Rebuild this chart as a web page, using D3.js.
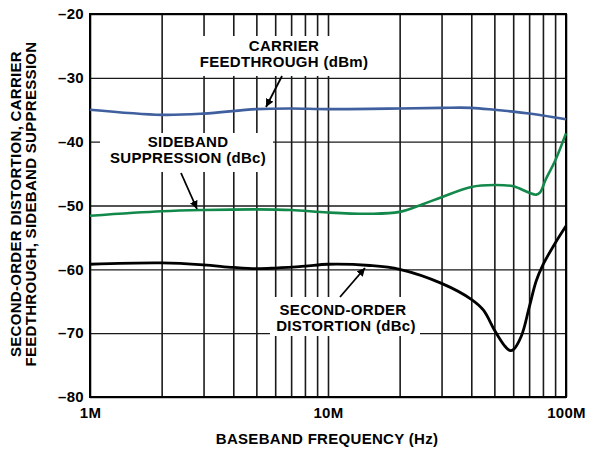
<!DOCTYPE html>
<html>
<head>
<meta charset="utf-8">
<script src="https://cdn.jsdelivr.net/npm/d3@7"></script>
<style>
  body { margin: 0; background: #fff; }
  text { font-family: "Liberation Sans", Arial, Helvetica, sans-serif; font-weight: bold; fill: #000; }
</style>
</head>
<body>
<div id="chart"></div>
<script>
// frequencies in MHz, levels in dB
var carrierFreq = [1, 2, 3, 5, 7, 10, 20, 30, 40, 50, 60, 70, 80, 100];
var carrierDbm  = [-35.0, -35.8, -35.6, -34.9, -34.8, -34.9, -34.8, -34.7, -34.7, -35.0, -35.3, -35.6, -35.9, -36.5];

var sidebandFreq = [1, 2, 3, 5, 7, 10, 15, 20, 25, 30, 40, 50, 60, 70, 75, 78, 82, 90, 100];
var sidebandDbc  = [-51.6, -50.9, -50.7, -50.6, -50.7, -51.1, -51.3, -51.0, -49.8, -48.7, -47.1, -46.8, -47.0, -48.0, -48.3, -47.9, -46.0, -43.0, -38.7];

var hd2Freq = [1, 2, 3, 4, 5, 6, 8, 10, 15, 20, 30, 40, 45, 50, 55, 58, 60, 65, 70, 75, 80, 90, 100];
var hd2Dbc  = [-59.2, -59.0, -59.3, -59.7, -59.9, -59.8, -59.5, -59.2, -59.4, -60.0, -62.2, -64.7, -66.4, -69.5, -71.9, -72.7, -72.6, -70.4, -66.0, -61.8, -59.3, -55.9, -53.2];

var yTicks = [-80, -70, -60, -50, -40, -30, -20];
var xMajor = [1, 10, 100];
var xTickLabels = ["1M", "10M", "100M"];

var width = 593, height = 453,
    margin = {top: 14, right: 27, bottom: 56, left: 90},
    w = width - margin.left - margin.right,
    h = height - margin.top - margin.bottom;

var svg = d3.select("#chart").append("svg")
    .attr("width", width)
    .attr("height", height);

var g = svg.append("g")
    .attr("transform", "translate(" + margin.left + "," + margin.top + ")");

var x = d3.scaleLog().domain([1, 100]).range([0, w]);
var y = d3.scaleLinear().domain([-80, -20]).range([h, 0]);

// every 1..9 per decade
var xGrid = [];
[1, 10].forEach(function(d) {
  for (var k = 1; k < 10; k++) xGrid.push(d * k);
});
xGrid.push(100);

// grid through the axis generators
g.append("g")
    .attr("class", "grid x")
    .attr("transform", "translate(0," + h + ")")
    .call(d3.axisBottom(x).tickValues(xGrid).tickSize(h).tickFormat(""))
    .call(function(s) {
      s.select(".domain").remove();
      s.selectAll(".tick line").attr("transform", "translate(0," + (-h) + ")")
        .attr("stroke", "#1a1a1a").attr("stroke-width", 1.6);
    });

g.append("g")
    .attr("class", "grid y")
    .call(d3.axisLeft(y).tickValues(yTicks).tickSize(-w).tickFormat(""))
    .call(function(s) {
      s.select(".domain").remove();
      s.selectAll(".tick line").attr("stroke", "#1a1a1a").attr("stroke-width", 1.4);
    });

// white patches behind the curve labels (cut the grid)
var boxes = [
  {x0: 185, y0: 36, x1: 377, y1: 76},
  {x0: 100, y0: 133, x1: 273, y1: 172},
  {x0: 270, y0: 297, x1: 420, y1: 336}
];
g.selectAll("rect.patch").data(boxes).enter().append("rect")
    .attr("class", "patch")
    .attr("x", function(d) { return d.x0 - margin.left; })
    .attr("y", function(d) { return d.y0 - margin.top; })
    .attr("width", function(d) { return d.x1 - d.x0; })
    .attr("height", function(d) { return d.y1 - d.y0; })
    .attr("fill", "#fff");

// frame
g.append("rect")
    .attr("width", w).attr("height", h)
    .attr("fill", "none").attr("stroke", "#000").attr("stroke-width", 2);

// tick labels
g.append("g")
    .attr("transform", "translate(0," + h + ")")
    .call(d3.axisBottom(x).tickValues(xMajor).tickSize(0).tickPadding(10)
      .tickFormat(function(d, i) { return xTickLabels[i]; }))
    .call(function(s) {
      s.select(".domain").remove();
      s.selectAll("text").attr("font-size", 15).attr("letter-spacing", 0.3)
        .attr("font-family", null).attr("fill", "#000");
    });

g.append("g")
    .call(d3.axisLeft(y).tickValues(yTicks).tickSize(0).tickPadding(6)
      .tickFormat(function(d) { return "\u2013" + Math.abs(d); }))
    .call(function(s) {
      s.select(".domain").remove();
      s.selectAll("text").attr("font-size", 15).attr("letter-spacing", 0.3)
        .attr("font-family", null).attr("fill", "#000");
    });

// curves
var line = d3.line()
    .x(function(d) { return x(d[0]); })
    .y(function(d) { return y(d[1]); })
    .curve(d3.curveCatmullRom.alpha(0.5));

var series = [
  {f: carrierFreq, v: carrierDbm, color: "#3f5f9e", sw: 2.6},
  {f: sidebandFreq, v: sidebandDbc, color: "#12894a", sw: 2.6},
  {f: hd2Freq, v: hd2Dbc, color: "#000", sw: 2.8}
];

g.selectAll("path.curve").data(series).enter().append("path")
    .attr("class", "curve")
    .attr("fill", "none")
    .attr("stroke", function(d) { return d.color; })
    .attr("stroke-width", function(d) { return d.sw; })
    .attr("d", function(d) { return line(d3.zip(d.f, d.v)); });

// arrows
svg.append("defs").append("marker")
    .attr("id", "head")
    .attr("viewBox", "0 0 10 10")
    .attr("refX", 10).attr("refY", 5)
    .attr("markerWidth", 4.5).attr("markerHeight", 4.5)
    .attr("markerUnits", "strokeWidth")
    .attr("orient", "auto")
  .append("path")
    .attr("d", "M0,0 L10,5 L0,10 Z")
    .attr("fill", "#000");

var arrows = [
  {x1: 282, y1: 76, x2: 266, y2: 107},
  {x1: 181, y1: 173, x2: 197, y2: 209},
  {x1: 340, y1: 297, x2: 365, y2: 268}
];
svg.selectAll("line.arrow").data(arrows).enter().append("line")
    .attr("class", "arrow")
    .attr("x1", function(d) { return d.x1; })
    .attr("y1", function(d) { return d.y1; })
    .attr("x2", function(d) { return d.x2; })
    .attr("y2", function(d) { return d.y2; })
    .attr("stroke", "#000").attr("stroke-width", 1.8)
    .attr("marker-end", "url(#head)");

// curve labels
var notes = [
  {x: 284, y: 51, text: "CARRIER"},
  {x: 284, y: 67, text: "FEEDTHROUGH (dBm)"},
  {x: 188, y: 147, text: "SIDEBAND"},
  {x: 188, y: 163, text: "SUPPRESSION (dBc)"},
  {x: 343, y: 315, text: "SECOND-ORDER"},
  {x: 346, y: 331, text: "DISTORTION (dBc)"}
];
svg.selectAll("text.note").data(notes).enter().append("text")
    .attr("class", "note")
    .attr("x", function(d) { return d.x; })
    .attr("y", function(d) { return d.y; })
    .attr("text-anchor", "middle")
    .attr("font-size", 15)
    .attr("letter-spacing", 0.3)
    .text(function(d) { return d.text; });

// axis titles
svg.append("text")
    .attr("x", 327)
    .attr("y", 444)
    .attr("text-anchor", "middle")
    .attr("font-size", 15)
    .attr("letter-spacing", 0.3)
    .text("BASEBAND FREQUENCY (Hz)");

var yTitle = ["SECOND-ORDER DISTORTION, CARRIER", "FEEDTHROUGH, SIDEBAND SUPPRESSION"];
svg.selectAll("text.ytitle").data(yTitle).enter().append("text")
    .attr("class", "ytitle")
    .attr("transform", function(d, i) { return "translate(" + (21 + i * 15) + ",204) rotate(-90)"; })
    .attr("text-anchor", "middle")
    .attr("font-size", 15)
    .attr("letter-spacing", 0.3)
    .text(function(d) { return d; });
</script>
</body>
</html>
